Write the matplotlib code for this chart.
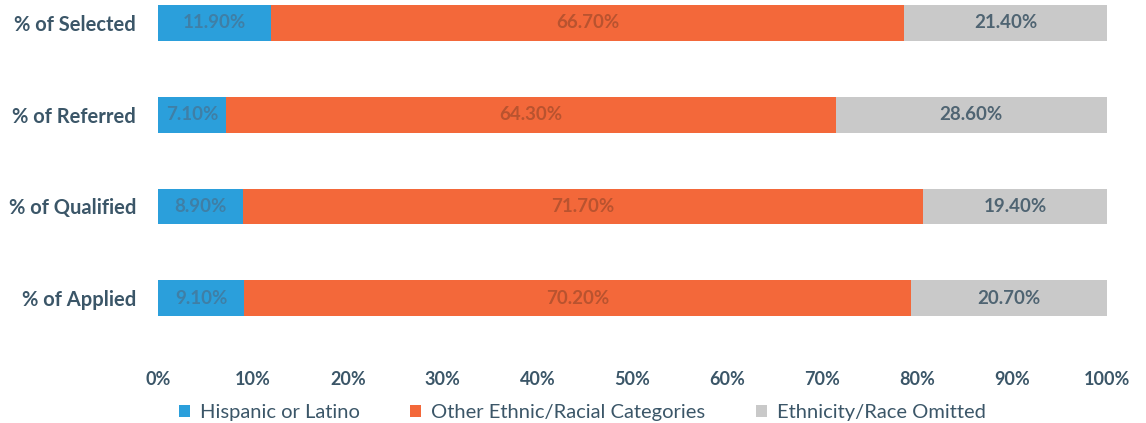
import matplotlib.pyplot as plt
import numpy as np

plt.rcParams['font.family'] = ['Lato', 'DejaVu Sans']

stages = ['% of Applied', '% of Qualified', '% of Referred', '% of Selected']
hispanic = [9.1, 8.9, 7.1, 11.9]
other = [70.2, 71.7, 64.3, 66.7]
omitted = [20.7, 19.4, 28.6, 21.4]

series = [
    ('Hispanic or Latino', hispanic, '#2b9fdb', '#3f7fa6'),
    ('Other Ethnic/Racial Categories', other, '#f3683a', '#b9532f'),
    ('Ethnicity/Race Omitted', omitted, '#c9c9c9', '#4f6472'),
]

text_col = '#3b5668'

fig = plt.figure(figsize=(11.46, 4.23), dpi=100)
ax = fig.add_axes([0.138, 0.241, 0.828, 0.748])

y = np.arange(len(stages))
left = np.zeros(len(stages))
for name, vals, col, lcol in series:
    vals = np.array(vals)
    ax.barh(y, vals, left=left, height=0.39, color=col, label=name)
    for yi, l, v in zip(y, left, vals):
        ax.text(l + v / 2, yi, f'{v:.2f}%', ha='center', va='center',
                fontsize=13.5, fontweight='bold', color=lcol)
    left += vals

ax.set_xlim(0, 100)
ax.set_ylim(-0.25, 3.2)
ax.set_yticks(y)
ax.set_yticklabels(stages)
ax.set_xticks(np.arange(0, 101, 10))
ax.set_xticklabels([f'{t}%' for t in range(0, 101, 10)])
ax.tick_params(axis='x', length=0, pad=36, labelsize=13, labelcolor=text_col)
ax.tick_params(axis='y', length=0, pad=16, labelsize=14.5, labelcolor=text_col)
for lbl in ax.get_xticklabels() + ax.get_yticklabels():
    lbl.set_fontweight('bold')
for s in ax.spines.values():
    s.set_visible(False)

leg = fig.legend(loc='lower center', bbox_to_anchor=(0.508, -0.038), ncol=3,
                 frameon=False, fontsize=14.5, handlelength=0.55, handleheight=0.55,
                 columnspacing=2.5, handletextpad=0.5)
for t in leg.get_texts():
    t.set_color(text_col)

fig.savefig('out.png', dpi=100)
